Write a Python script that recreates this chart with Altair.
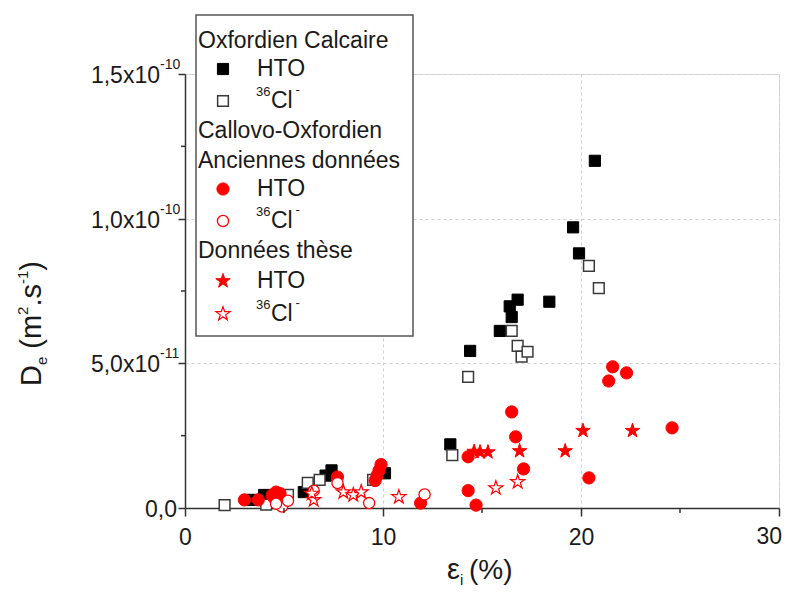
import altair as alt
import pandas as pd

FONT = "Liberation Sans"
RED = "#ff0000"
BLACK = "#000000"
TXT = "#1a1a1a"

# ---------------- data (eps_i in %, De in m2/s) ----------------
oxf_hto_eps = [20.7, 19.6, 19.9, 18.4, 16.8, 16.4, 16.5, 15.9, 14.4, 13.4, 10.1, 7.4, 7.1, 6.0, 3.4, 4.0]
oxf_hto_de = [12.0e-11, 9.7e-11, 8.8e-11, 7.13e-11, 7.2e-11, 6.97e-11, 6.6e-11, 6.12e-11, 5.43e-11,
              2.2e-11, 1.2e-11, 1.3e-11, 1.12e-11, 0.55e-11, 0.28e-11, 0.45e-11]

oxf_cl_eps = [20.4, 20.9, 16.5, 16.8, 17.0, 17.3, 14.3, 13.5, 9.5, 6.2, 6.8, 5.2, 2.0, 4.1]
oxf_cl_de = [8.37e-11, 7.6e-11, 6.12e-11, 5.6e-11, 5.23e-11, 5.4e-11, 4.53e-11, 1.83e-11, 0.97e-11,
             0.87e-11, 0.97e-11, 0.45e-11, 0.1e-11, 0.12e-11]

anc_hto_eps = [21.6, 22.3, 21.4, 16.5, 24.6, 16.7, 14.3, 17.1, 20.4, 14.3, 14.7, 11.9, 9.9, 9.8, 9.7, 9.6,
               7.7, 3.0, 3.7, 4.4, 4.6, 4.8, 4.5]
anc_hto_de = [4.88e-11, 4.67e-11, 4.39e-11, 3.32e-11, 2.77e-11, 2.46e-11, 1.77e-11, 1.35e-11, 1.04e-11,
              0.6e-11, 0.1e-11, 0.17e-11, 1.5e-11, 1.3e-11, 1.12e-11, 0.95e-11, 1.07e-11, 0.28e-11,
              0.28e-11, 0.45e-11, 0.55e-11, 0.5e-11, 0.35e-11]

anc_cl_eps = [12.1, 9.3, 7.7, 4.9, 5.2, 6.5, 4.6]
anc_cl_de = [0.47e-11, 0.17e-11, 0.86e-11, 0.05e-11, 0.25e-11, 0.6e-11, 0.15e-11]

these_hto_eps = [20.1, 22.6, 19.2, 16.9, 14.6, 14.9, 15.3]
these_hto_de = [2.67e-11, 2.67e-11, 1.97e-11, 1.97e-11, 1.95e-11, 1.93e-11, 1.93e-11]

these_cl_eps = [15.7, 16.8, 10.8, 8.0, 8.5, 8.9, 6.5, 6.4]
these_cl_de = [0.69e-11, 0.9e-11, 0.38e-11, 0.55e-11, 0.45e-11, 0.55e-11, 0.28e-11, 0.5e-11]

# axis ticks / labels
x_major = [0, 10, 20, 30]
x_minor = [5, 15, 25]
y_all_major = [0, 5e-11, 1e-10, 1.5e-10]
y_minor = [2.5e-11, 7.5e-11, 1.25e-10]
y_major = [5e-11, 1e-10, 1.5e-10]
y_mant = ["5,0x10", "1,0x10", "1,5x10"]
y_exp = ["-11", "-10", "-10"]

W, H = 594, 434

xscale = alt.Scale(domain=[0, 30], nice=False, zero=False)
yscale = alt.Scale(domain=[0, 1.5e-10], nice=False, zero=False)

x_axis = alt.Axis(
    values=x_major, title=None, format="d", labelFlush=False, labelOverlap=False,
    labelExpr="datum.value == 30 ? '' : datum.label",
    labelFont=FONT, labelFontSize=23, labelColor=TXT, labelPadding=10,
    tickSize=8, tickColor="#333", tickWidth=1.5, domainColor="#333", domainWidth=1.5,
    grid=True, gridColor="#cfcfcf", gridDash=[3, 3], gridWidth=1,
)
y_axis = alt.Axis(
    values=y_all_major, title=None, labels=False,
    tickSize=7, tickColor="#333", tickWidth=1.5, domainColor="#333", domainWidth=1.5,
    grid=True, gridColor="#cfcfcf", gridDash=[3, 3], gridWidth=1,
)

X_ENC = alt.X("eps:Q", scale=xscale, axis=x_axis)
Y_ENC = alt.Y("De:Q", scale=yscale, axis=y_axis)

STAR = ("M0,-1L0.2245,-0.309L0.9511,-0.309L0.3633,0.118L0.5878,0.809L0,0.382"
        "L-0.5878,0.809L-0.3633,0.118L-0.9511,-0.309L-0.2245,-0.309Z")


def series(eps, de, **style):
    df = pd.DataFrame({"eps": eps, "De": de})
    return alt.Chart(df).mark_point(filled=True, opacity=1, **style).encode(x=X_ENC, y=Y_ENC)


STY = {
    "oxf_hto": dict(shape="square", fill=BLACK, stroke=BLACK, strokeWidth=1, size=125),
    "oxf_cl": dict(shape="square", fill="white", stroke="#3a3a3a", strokeWidth=1.5, size=115),
    "anc_hto": dict(shape="circle", fill=RED, stroke=RED, strokeWidth=1, size=150),
    "anc_cl": dict(shape="circle", fill="white", stroke=RED, strokeWidth=1.3, size=125),
    "these_hto": dict(shape=STAR, fill=RED, stroke=RED, strokeWidth=1, size=230),
    "these_cl": dict(shape=STAR, fill="white", stroke=RED, strokeWidth=1.2, size=220),
}

layers = [
    series(oxf_hto_eps, oxf_hto_de, **STY["oxf_hto"]),
    series(oxf_cl_eps, oxf_cl_de, **STY["oxf_cl"]),
    series(anc_hto_eps, anc_hto_de, **STY["anc_hto"]),
    series(anc_cl_eps, anc_cl_de, **STY["anc_cl"]),
    series(these_hto_eps, these_hto_de, **STY["these_hto"]),
    series(these_cl_eps, these_cl_de, **STY["these_cl"]),
]

# minor ticks
layers.append(alt.Chart(pd.DataFrame({"eps": x_minor})).mark_rule(color="#333", strokeWidth=1.5).encode(
    x=X_ENC, y=alt.value(H), y2=alt.value(H + 5)))
layers.append(alt.Chart(pd.DataFrame({"De": y_minor})).mark_rule(color="#333", strokeWidth=1.5).encode(
    y=Y_ENC, x=alt.value(-4), x2=alt.value(0)))

anchor = alt.Chart(pd.DataFrame({"k": [0]}))


def label(text, x, y, size, align="left", baseline="middle", angle=0, dy=0, color=TXT):
    return anchor.mark_text(text=text, font=FONT, fontSize=size, align=align, baseline=baseline,
                            angle=angle, dy=dy, color=color).encode(x=alt.value(x), y=alt.value(y))


def symbol(x, y, **style):
    return anchor.mark_point(filled=True, opacity=1, **style).encode(x=alt.value(x), y=alt.value(y))


# last x tick label kept inside the page edge
layers.append(label("30", W + 3, H + 18, 23, align="right", baseline="top"))

# ---------------- y tick labels (with superscript exponents) ----------------
ytick_df = pd.DataFrame({"De": y_major, "mant": y_mant, "exp": y_exp})
layers.append(alt.Chart(ytick_df).mark_text(font=FONT, fontSize=23, align="right", baseline="middle",
                                            dy=2, color=TXT).encode(x=alt.value(-25), y=Y_ENC, text="mant:N"))
layers.append(alt.Chart(ytick_df).mark_text(font=FONT, fontSize=14, align="left", baseline="middle",
                                            dy=-9, color=TXT).encode(x=alt.value(-25), y=Y_ENC, text="exp:N"))
layers.append(label("0,0", -8, H + 2, 23, align="right"))

# ---------------- axis titles ----------------
AW = {"D": .722, "e": .556, " ": .278, "(": .333, "m": .833, "2": .556, ".": .278, "s": .5,
      "-": .333, "1": .556, ")": .333, "%": .889, "i": .222}


def tw(s, size):
    return sum(AW.get(c, .556) for c in s) * size


# (text, font size, baseline shift, gap before)
ytitle_pieces = [("D", 29, 0, 0), ("e", 15, 6, 0), ("(m", 29, 0, 8), ("2", 15, -13, 0), (".s", 29, 0, 0),
                 ("-1", 15, -13, 0), (")", 29, 0, 0)]
cur = 312
for s, fs, shift, gap in ytitle_pieces:
    cur -= gap
    layers.append(label(s, -144 + shift, cur, fs, align="left", baseline="alphabetic", angle=270))
    cur -= tw(s, fs)

layers.append(label("ε", 262, 505, 29, align="left", baseline="alphabetic"))
layers.append(label("i", 275, 511, 15, align="left", baseline="alphabetic"))
layers.append(label("(%)", 284, 505, 28, align="left", baseline="alphabetic"))

# ---------------- legend ----------------
layers.append(anchor.mark_rect(fill="white", stroke="#555", strokeWidth=1.5).encode(
    x=alt.value(11), x2=alt.value(228), y=alt.value(-59), y2=alt.value(262)))

LFS = 23
headers = [("Oxfordien Calcaire", -33), ("Callovo-Oxfordien", 57), ("Anciennes données", 87),
           ("Données thèse", 177)]
for s, y in headers:
    layers.append(label(s, 13, y, LFS))

entries = [("oxf_hto", "HTO", -5), ("oxf_cl", "Cl", 27), ("anc_hto", "HTO", 115), ("anc_cl", "Cl", 147),
           ("these_hto", "HTO", 207), ("these_cl", "Cl", 240)]
for key, txt, y in entries:
    layers.append(symbol(38, y, **STY[key]))
    if txt == "HTO":
        layers.append(label("HTO", 72, y, LFS))
    else:
        layers.append(label("36", 71, y, 13, dy=-9))
        layers.append(label("Cl", 86, y, LFS))
        layers.append(label("-", 86 + tw("Cl", LFS) - 1, y, 13, dy=-11))

chart = alt.layer(*layers).properties(
    width=W, height=H,
    autosize=alt.AutoSizeParams(type="none"),
    padding={"left": 177, "top": 66, "right": 3, "bottom": 80},
).configure_view(stroke="#333", strokeWidth=1.5).configure(background="white")

chart.save("out.html", embed_options={"renderer": "svg", "actions": False})
